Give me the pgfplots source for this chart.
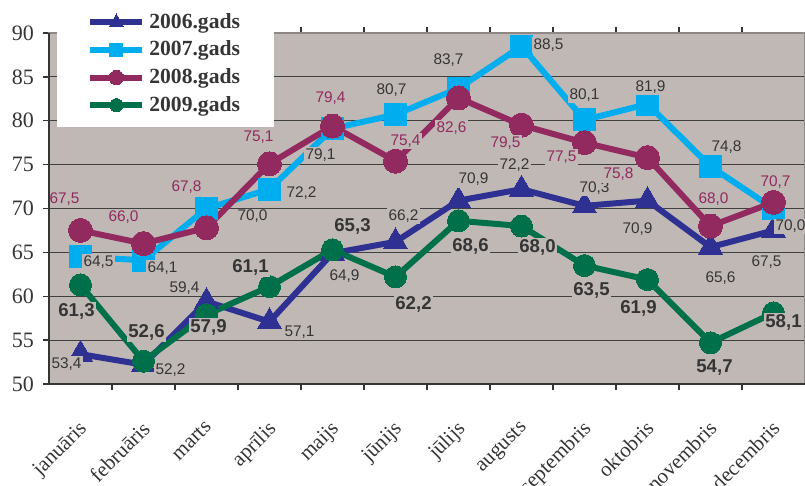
\documentclass[border=0pt]{standalone}
\usepackage{fontspec}
\setmainfont{Liberation Serif}
\newfontfamily\lab{Liberation Sans}
\usepackage{pgfplots}
\usepackage{pgfplotstable}
\pgfplotsset{compat=1.18}
\definecolor{bgc}{HTML}{C0B8B5}
\definecolor{c06}{HTML}{2E3192}
\definecolor{c07}{HTML}{00AEEF}
\definecolor{c08}{HTML}{92295F}
\definecolor{c09}{HTML}{00704A}
\definecolor{txt}{HTML}{353535}
\definecolor{frm}{HTML}{8E8886}

% dx, dy: label offset from the point, in pixels of the reference (1px = 0.5pt)
\pgfplotstableread{
x y dx dy
0 53.4 -14 -10
1 52.2 27 -5
2 59.4 -22 13
3 57.1 30 -10
4 64.9 12 -23
5 66.2 8 26
6 70.9 15 21
7 72.2 -7 24
8 70.3 10 18
9 70.9 -10 -29
10 65.6 10 -31
11 67.5 -7 -32
}\tabA
\pgfplotstableread{
x y dx dy
0 64.5 18 -5
1 64.1 19 -8
2 70.0 46 -8
3 72.2 32 -4
4 79.1 -12 -26
5 80.7 -4 25
6 83.7 -10 28
7 88.5 27 1
8 80.1 0 25
9 81.9 3 17
10 74.8 16 19
11 70.0 17 -18
}\tabB
\pgfplotstableread{
x y dx dy
0 67.5 -16 31
1 66.0 -20 26
2 67.8 -20 41
3 75.1 -11 27
4 79.4 -2 28
5 75.4 10 20
6 82.6 -7 -30
7 79.5 -16 -18
8 77.5 -23 -14
9 75.8 -29 -17
10 68.0 3 27
11 70.7 2 20
}\tabC
\pgfplotstableread{
x y dx dy
0 61.3 -4 -27
1 52.6 3 29
2 57.9 2 -13
3 61.1 -19 19
4 65.3 20 23
5 62.2 18 -28
6 68.6 12 -26
7 68.0 16 -21
8 63.5 7 -25
9 61.9 -9 -29
10 54.7 4 -25
11 58.1 10 -10
}\tabD

\pgfplotsset{
  lbl/.style={
    point meta=y,
    visualization depends on={\thisrow{dx}\as\pdx},
    visualization depends on={\thisrow{dy}\as\pdy},
    nodes near coords={\pgfmathprintnumber[fixed,fixed zerofill,precision=1,use comma]{\pgfplotspointmeta}},
    every node near coord/.append style={anchor=center, xshift=\pdx*0.5pt, yshift=\pdy*0.5pt,
      fill=bgc, inner sep=0.8pt, #1},
  },
}

\begin{document}
\begin{tikzpicture}
\useasboundingbox (-24.5pt,-51pt) rectangle (378pt,192pt);
\begin{axis}[
  at={(0pt,0pt)}, anchor=south west,
  scale only axis, width=378pt, height=175.5pt,
  xmin=-0.5, xmax=11.5, ymin=50, ymax=90,
  clip=false,
  axis background/.style={fill=bgc},
  axis line style={draw=frm, line width=0.7pt},
  xtick={0,...,11},
  xticklabels={januāris,februāris,marts,aprīlis,maijs,jūnijs,jūlijs,augusts,septembris,oktobris,novembris,decembris},
  major x tick style={draw=none},
  minor xtick={0.5,1.5,...,10.5},
  minor x tick style={draw=txt, line width=0.7pt},
  minor tick length=3pt,
  ytick={50,55,...,90},
  ytick style={draw=txt, line width=0.7pt},
  major tick length=3pt,
  tick align=outside,
  ymajorgrids,
  grid style={draw=black!75, line width=0.5pt},
  /pgf/number format/assume math mode=true,
  yticklabel style={font=\fontsize{11}{12}\selectfont, text=txt, xshift=-1pt},
  xticklabel style={rotate=45, anchor=north east, font=\fontsize{10.5}{11}\selectfont, text=txt, yshift=-6pt, xshift=-8pt},
  legend style={at={(rel axis cs:0,1)}, anchor=north west, xshift=4pt, yshift=16.5pt,
    draw=none, fill=white, inner xsep=15pt, inner ysep=4.5pt,
    font=\bfseries\fontsize{10.8}{12}\selectfont, text=txt, cells={anchor=west}, row sep=0.8pt},
  legend image code/.code={\draw[#1, mark repeat=2, mark phase=2, every mark/.append style={scale=0.6}]
     plot coordinates {(0pt,0pt) (13pt,0pt) (26pt,0pt)};},
  after end axis/.code={\draw[txt, line width=0.8pt] (rel axis cs:0,1) -- (rel axis cs:0,0) -- (rel axis cs:1,0);},
]
\addplot[c06, line width=3pt, mark=triangle*, mark size=7pt, mark options={solid, fill=c06, draw=c06, line width=0pt},
  lbl={font=\lab\fontsize{7.7}{8}\selectfont, text=txt}] table[x=x,y=y] \tabA;
\addlegendentry{2006.gads}
\addplot[c07, line width=3pt, mark=square*, mark size=5.5pt, mark options={solid, fill=c07, draw=c07, line width=0pt},
  lbl={font=\lab\fontsize{7.7}{8}\selectfont, text=txt}] table[x=x,y=y] \tabB;
\addlegendentry{2007.gads}
\addplot[c08, line width=3pt, mark=*, mark size=6pt, mark options={solid, fill=c08, draw=c08, line width=0pt},
  lbl={font=\lab\fontsize{7.7}{8}\selectfont, text=c08}] table[x=x,y=y] \tabC;
\addlegendentry{2008.gads}
\addplot[c09, line width=3pt, mark=*, mark size=5.5pt, mark options={solid, fill=c09, draw=c09, line width=0pt},
  lbl={font=\lab\bfseries\fontsize{9.3}{10}\selectfont, text=txt}] table[x=x,y=y] \tabD;
\addlegendentry{2009.gads}
\end{axis}
\end{tikzpicture}
\end{document}
